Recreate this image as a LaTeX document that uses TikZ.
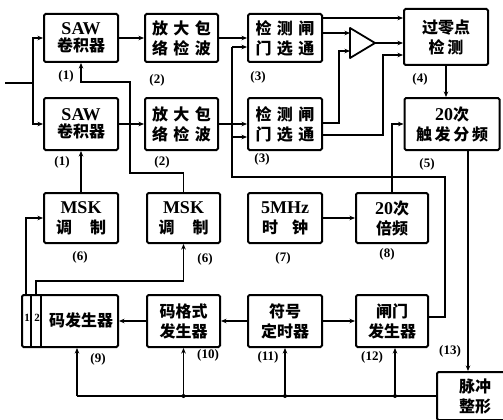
\documentclass[tikz,border=0pt]{standalone}
\usepackage{fontspec}
\setmainfont{Liberation Serif}
\newfontfamily\cjk{Noto Sans CJK SC}
\usetikzlibrary{arrows.meta,calc}
\newcommand{\zh}[1]{{\cjk\bfseries #1}}
\newcommand{\lt}[1]{{\fontsize{18}{20}\selectfont #1}}
\begin{document}
\begin{tikzpicture}[x=1pt,y=-1pt,
  box/.style={draw, line width=2pt, rounded corners=1.5pt, minimum width=74pt,
    minimum height=50pt, align=center, inner sep=1pt,
    font=\bfseries\fontsize{16}{20}\selectfont},
  wire/.style={line width=1.7pt},
  arr/.style={wire, -{Stealth[length=5.5pt,width=4.5pt]}},
  lab/.style={font=\bfseries\fontsize{13}{14}\selectfont},
  dot/.style={circle, fill, inner sep=0pt, minimum size=4pt}]
\useasboundingbox (0,0) rectangle (503,420);
\clip (0,0) rectangle (503,420);
% row 1
\node[box, minimum height=48pt] (saw1) at (81,38) {\lt{SAW}\\[-3pt]\zh{卷积器}};
\node[box, minimum width=73pt, minimum height=48pt] (amp1) at (181.5,38) {\zh{放\,\,大\,\,包}\\\zh{络\,\,检\,\,波}};
\node[box, minimum height=48pt] (det1) at (285,38) {\zh{检\,\,测\,\,闸}\\\zh{门\,\,选\,\,通}};
\node[box, minimum width=84pt, minimum height=56pt] (zc) at (446,37) {\zh{过零点}\\\zh{检\,测}};
% row 2
\node[box, minimum height=52pt] (saw2) at (81,124) {\lt{SAW}\\[-3pt]\zh{卷积器}};
\node[box, minimum width=73pt, minimum height=52pt] (amp2) at (181.5,124) {\zh{放\,\,大\,\,包}\\\zh{络\,\,检\,\,波}};
\node[box, minimum height=52pt] (det2) at (285,124) {\zh{检\,\,测\,\,闸}\\\zh{门\,\,选\,\,通}};
\node[box, minimum width=95pt, minimum height=52pt] (tf) at (452,124) {\lt{20}\zh{次}\\\zh{触\,发\,分\,频}};
% row 3
\node[box] (m1) at (81,218) {\lt{MSK}\\\zh{调}\hspace{18pt}\zh{制}};
\node[box, minimum width=73pt] (m2) at (183.5,218) {\lt{MSK}\\\zh{调}\hspace{18pt}\zh{制}};
\node[box] (clk) at (285,218) {\lt{5MHz}\\\zh{时}\hspace{14pt}\zh{钟}};
\node[box, minimum width=72pt] (fm) at (392,218) {\lt{20}\zh{次}\\\zh{倍频}};
% row 4
\node[box, minimum width=96pt, minimum height=52pt] (cg) at (70,321) {};
\node[font=\bfseries\fontsize{16}{20}\selectfont, inner sep=0pt] (cgt) at (81,320) {\zh{码发生器}};
\node[font=\bfseries\fontsize{11}{12}\selectfont, inner sep=0pt] (s1) at (27,318) {1};
\node[font=\bfseries\fontsize{11}{12}\selectfont, inner sep=0pt] (s2) at (37,318) {2};
\draw[wire] ($(cg.north west)+(10,0)$) -- ($(cg.south west)+(10,0)$);
\draw[wire] ($(cg.north west)+(20,0)$) -- ($(cg.south west)+(20,0)$);
\node[box, minimum width=73pt, minimum height=52pt] (cf) at (183.5,321) {\zh{码格式}\\\zh{发生器}};
\node[box, minimum height=52pt] (st) at (285,321) {\zh{符号}\\\zh{定时器}};
\node[box, minimum width=72pt, minimum height=52pt] (gg) at (392,321) {\zh{闸门}\\\zh{发生器}};
\node[box, minimum width=76pt, minimum height=48pt] (pz) at (475,396) {\zh{脉冲}\\\zh{整形}};
% comparator
\coordinate (cin1) at (350,33);
\coordinate (cin2) at (350,51);
\coordinate (cout) at (375,43);
\draw[line width=1.8pt, line join=round] (350,28) -- (cout) -- (350,58) -- cycle;
% labels
\node[lab] (l1) at (66,76) {(1)};
\node[lab] (l2) at (157,80) {(2)};
\node[lab] (l3) at (258,77) {(3)};
\node[lab] (l4) at (420,79) {(4)};
\node[lab] (l1b) at (62,162) {(1)};
\node[lab] (l2b) at (162,162) {(2)};
\node[lab] (l3b) at (262,159) {(3)};
\node[lab] (l5) at (427,164) {(5)};
\node[lab] (l6) at (80,257) {(6)};
\node[lab] (l6b) at (205,259) {(6)};
\node[lab] (l7) at (283,258) {(7)};
\node[lab] (l8) at (387,254) {(8)};
\node[lab] (l9) at (98,359) {(9)};
\node[lab] (l10) at (208,355) {(10)};
\node[lab] (l11) at (268,357) {(11)};
\node[lab] (l12) at (372,357) {(12)};
\node[lab] (l13) at (450,351) {(13)};
% input
\coordinate (in) at (5,83);
\coordinate (split) at (33,83);
\draw[wire] (in) -- (split);
\draw[arr] (split) |- (saw1);
\draw[arr] (split) |- (saw2);
% row chains
\draw[arr] (saw1) -- (amp1);
\draw[arr] (amp1) -- (det1);
\draw[arr] (saw2) -- (amp2);
\draw[arr] (amp2) -- (det2);
% detector outputs
\draw[arr] (det1.east |- 0,18) -- (zc.west |- 0,18);
\draw[arr] (det1.east |- cin1) -- (cin1);
\draw[arr] (cout) -- (zc.west |- cout);
\draw[arr] (det2.east |- 0,123) -- (339,123) |- (cin2);
\draw[arr] (det2.east |- 0,135) -| (383,55) -- (zc.west |- 0,55);
% gate
\coordinate (g1) at (445,177);
\coordinate (g2) at (232,177);
\draw[wire] (gg.east |- 0,317) -| (g1) -- (g2) -- (232,47);
\draw[arr] (232,47) -- (det1.west |- 0,47);
\draw[arr] (232,137) -- (det2.west |- 0,137);
% zero crossing / divider
\draw[arr] (zc.south) -- (zc.south |- tf.north);
\draw[arr] (fm.north) |- (tf.west);
\draw[arr] (tf.south -| 468,0) -- (pz.north -| 468,0);
\draw[arr] (clk) -- (fm);
% MSK to SAW
\draw[arr] (m1.north) -- (saw2.south);
\coordinate (k1) at (130,173);
\coordinate (k0) at (130,82);
\draw[arr] (m2.north) |- (k1) -- (k0) -| (saw1.south);
% code generator to MSK
\draw[arr] ($(cg.north west)+(5,0)$) |- (m1.west);
\coordinate (k2) at (183.5,281);
\draw[arr] ($(cg.north west)+(15,0)$) |- (k2) -- (m2.south);
% bottom row
\draw[arr] (st) -- (cf);
\draw[arr] (cf) -- (cg);
\draw[arr] (st) -- (gg);
\coordinate (b1) at (77,396);
\coordinate (b2) at (183.5,396);
\coordinate (b3) at (285,396);
\coordinate (b4) at (395,396);
\draw[wire] (pz.west) -- (b1);
\draw[arr] (b1) -- (b1 |- cg.south);
\draw[arr] (b2) -- (b2 |- cf.south);
\draw[arr] (b3) -- (b3 |- st.south);
\draw[arr] (b4) -- (b4 |- gg.south);
\node[dot] (d2) at (b2) {};
\node[dot] (d3) at (b3) {};
\node[dot] (d4) at (b4) {};
\end{tikzpicture}
\end{document}
